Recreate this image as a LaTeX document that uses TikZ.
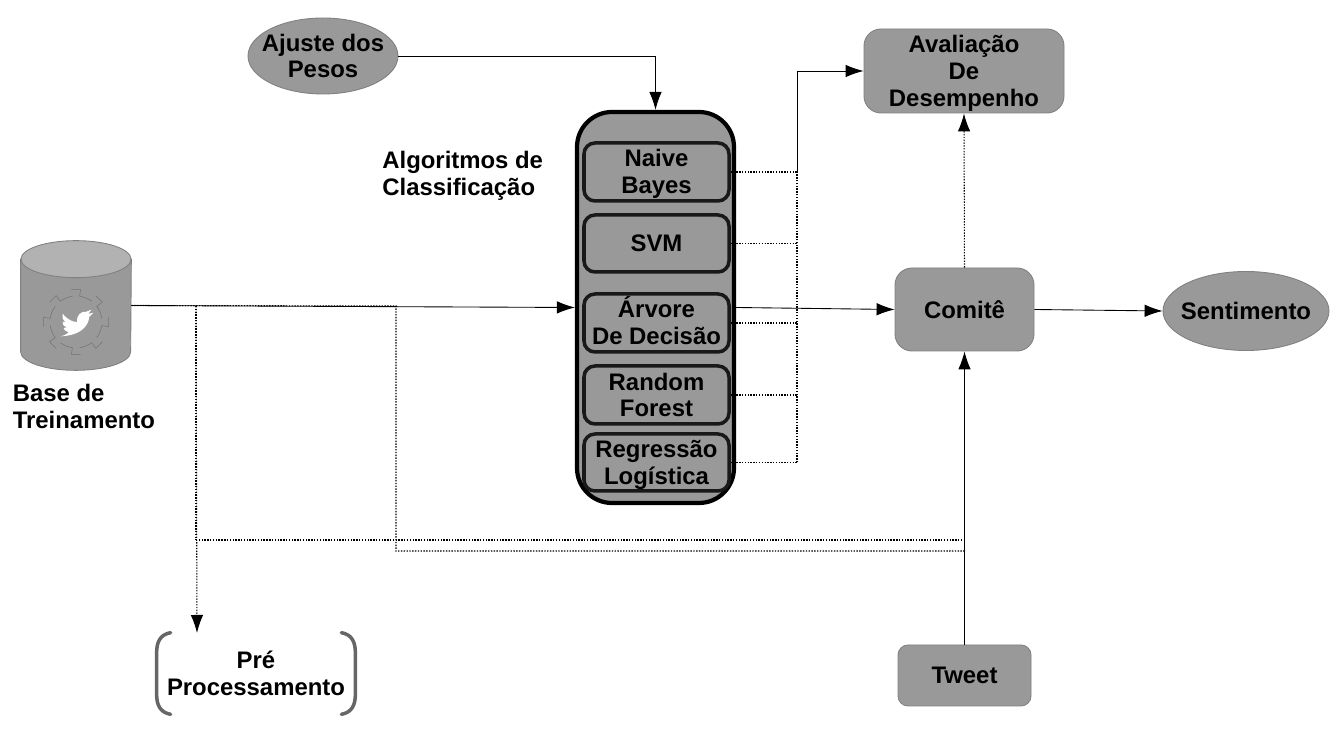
\documentclass[tikz,border=0pt]{standalone}
\usepackage{fontspec}
\setmainfont{Liberation Sans}
\usetikzlibrary{arrows.meta,calc,positioning,shapes.geometric}
\tikzset{
  boxfill/.style={fill=black!40,draw=black!50,line width=0.5pt},
  roundbox/.style={boxfill,rectangle,rounded corners=0.34cm,align=center,inner sep=0pt},
  oval/.style={boxfill,ellipse,inner sep=-0.3cm,align=center},
  algobox/.style={rectangle,draw=black!90,line width=2pt,rounded corners=0.22cm,minimum width=2.9cm,align=center,inner sep=0pt},
  solidlink/.style={black,line width=0.5pt},
  dotlink/.style={black,line width=0.6pt,dash pattern=on 0.8pt off 0.8pt},
  tip/.style={-{Latex[length=0.36cm,width=0.25cm]}}
}
\begin{document}
\begin{tikzpicture}[font=\fontsize{13.6}{15.3}\selectfont\bfseries]
  \useasboundingbox (0,0) rectangle (26.78,14.9);
  % --- Nodes ---
  \node[oval,minimum width=3.0cm,minimum height=1.52cm] (ajuste) at (6.46,13.78) {Ajuste dos\\Pesos};
  \node[roundbox,text depth=0.6pt,minimum width=4.0cm,minimum height=1.68cm] (avaliacao) at (19.28,13.48) {Avaliação\\De\\Desempenho};
  \node[roundbox,minimum width=2.78cm,minimum height=1.66cm] (comite) at (19.29,8.71) {Comitê};
  \node[oval,minimum width=3.32cm,minimum height=1.58cm] (sentimento) at (24.92,8.68) {Sentimento};
  \node[roundbox,rounded corners=0.2cm,minimum width=2.66cm,minimum height=1.22cm] (tweet) at (19.29,1.39) {Tweet};
  % Classifier stack
  \node[fill=black!40,draw=black,line width=2.4pt,rectangle,rounded corners=0.7cm,minimum width=3.14cm,minimum height=7.82cm] (stack) at (13.11,8.75) {};
  \node[algobox,text depth=0.6pt,minimum height=1.16cm] (naive) at (13.13,11.46) {Naive\\Bayes};
  \node[algobox,minimum height=1.14cm] (svm) at (13.13,10.03) {SVM};
  \node[algobox,text depth=3pt,minimum height=1.16cm] (arvore) at (13.13,8.44) {Árvore\\De Decisão};
  \node[algobox,minimum height=1.16cm] (forest) at (13.13,7.0) {Random\\Forest};
  \node[algobox,text depth=0.6pt,minimum height=1.14cm] (regressao) at (13.13,5.65) {Regressão\\Logística};
  \node[align=left,anchor=west,inner sep=0pt] (algoLabel) at (7.64,11.39) {Algoritmos de\\Classificação};
  % Training base
  \node[inner sep=0pt,minimum width=2.2cm,minimum height=2.58cm] (base) at (1.52,8.79) {};
  \draw[boxfill] ($(base.north west)+(0,-0.37)$) -- ($(base.south west)+(0,0.37)$)
    arc (180:360:1.1 and 0.37) -- ($(base.north east)+(0,-0.37)$) -- cycle;
  \draw[boxfill,fill=black!30] ($(base.north)+(0,-0.37)$) ellipse (1.1 and 0.37);
  \node[align=left,anchor=west,inner sep=0pt] (baseLabel) at (0.25,6.77) {Base de\\Treinamento};
  % Gear with bird
  \foreach \a in {0,45,...,315}{%
    \draw[black!55,line width=0.3pt,shift={(1.52,8.46)},rotate=\a]
      (8:0.52) arc (8:37:0.52) -- (37:0.66) (-8:0.66) -- (8:0.66);
  }
  \fill[white,shift={(1.52,8.46)},scale=0.0205,yscale=-1]
    (-13,-8) .. controls (-8,-2) and (-3,0) .. (1,0) .. controls (0,-6) and (5,-11) .. (10,-10)
    -- (15,-12) -- (12,-8) -- (17,-9) -- (13,-5)
    .. controls (12,4) and (5,13) .. (-15,14)
    .. controls (-11,13) and (-9,12) .. (-7,10) .. controls (-10,9) and (-12,8) .. (-12,6)
    .. controls (-11,5) and (-10,5) .. (-9,5) .. controls (-12,4) and (-14,2) .. (-13,0)
    .. controls (-12,0) and (-11,0) .. (-10,0) .. controls (-13,-2) and (-14,-5) .. (-13,-8) -- cycle;
  % Pre-processing with brackets
  \node[align=center,inner sep=0pt,minimum width=3.96cm,minimum height=1.62cm] (pre) at (5.12,1.43) {Pré\\Processamento};
  \draw[black!60,line width=2pt,line cap=round]
    ($(pre.north west)+(0.28,0)$) .. controls ($(pre.north west)+(0.06,-0.04)$) and ($(pre.north west)+(0,-0.2)$) .. ($(pre.north west)+(0,-0.4)$)
    -- ($(pre.south west)+(0,0.4)$) .. controls ($(pre.south west)+(0,0.2)$) and ($(pre.south west)+(0.06,0.04)$) .. ($(pre.south west)+(0.28,0)$);
  \draw[black!60,line width=2pt,line cap=round]
    ($(pre.north east)+(-0.28,0)$) .. controls ($(pre.north east)+(-0.06,-0.04)$) and ($(pre.north east)+(0,-0.2)$) .. ($(pre.north east)+(0,-0.4)$)
    -- ($(pre.south east)+(0,0.4)$) .. controls ($(pre.south east)+(0,0.2)$) and ($(pre.south east)+(-0.06,0.04)$) .. ($(pre.south east)+(-0.28,0)$);
  % --- Connector corners ---
  \coordinate (joinTop) at (15.94,13.48);
  \coordinate (joinBase) at (15.94,5.65);
  \coordinate (splitA) at (3.92,8.78);
  \coordinate (splitB) at (7.92,8.78);
  \coordinate (preTip) at (3.94,2.24);
  \coordinate (lowA) at (3.92,4.1);
  \coordinate (lowB) at (7.92,3.88);
  % --- Solid connectors ---
  \draw[solidlink,tip] (ajuste.east) -- (ajuste.east -| stack.north) -- (stack.north);
  \draw[solidlink,tip] (base.east) -- (stack.west);
  \draw[solidlink,tip] (stack.east) -- (comite.west);
  \draw[solidlink,tip] (comite.east) -- (sentimento.west);
  \draw[solidlink,tip] (tweet.north) -- (comite.south);
  \draw[solidlink,tip] (naive.east -| joinTop) -- (joinTop) -- (avaliacao.west);
  % --- Dotted connectors ---
  \foreach \src in {naive,svm,arvore,forest,regressao}
    \draw[dotlink] (\src.east) -- (\src.east -| joinTop);
  \draw[dotlink] (joinBase) -- (naive.east -| joinTop);
  \draw[dotlink,tip] (comite.north) -- (avaliacao.south);
  \draw[dotlink,tip] (splitA) -- (preTip);
  \draw[dotlink,line width=1pt] (splitA) -- (lowA);
  \draw[dotlink] (base.east) -- (splitB) -- (lowB) -- (lowB -| comite.south);
  \draw[dotlink] (lowA) -- (lowA -| comite.south);
\end{tikzpicture}
\end{document}
